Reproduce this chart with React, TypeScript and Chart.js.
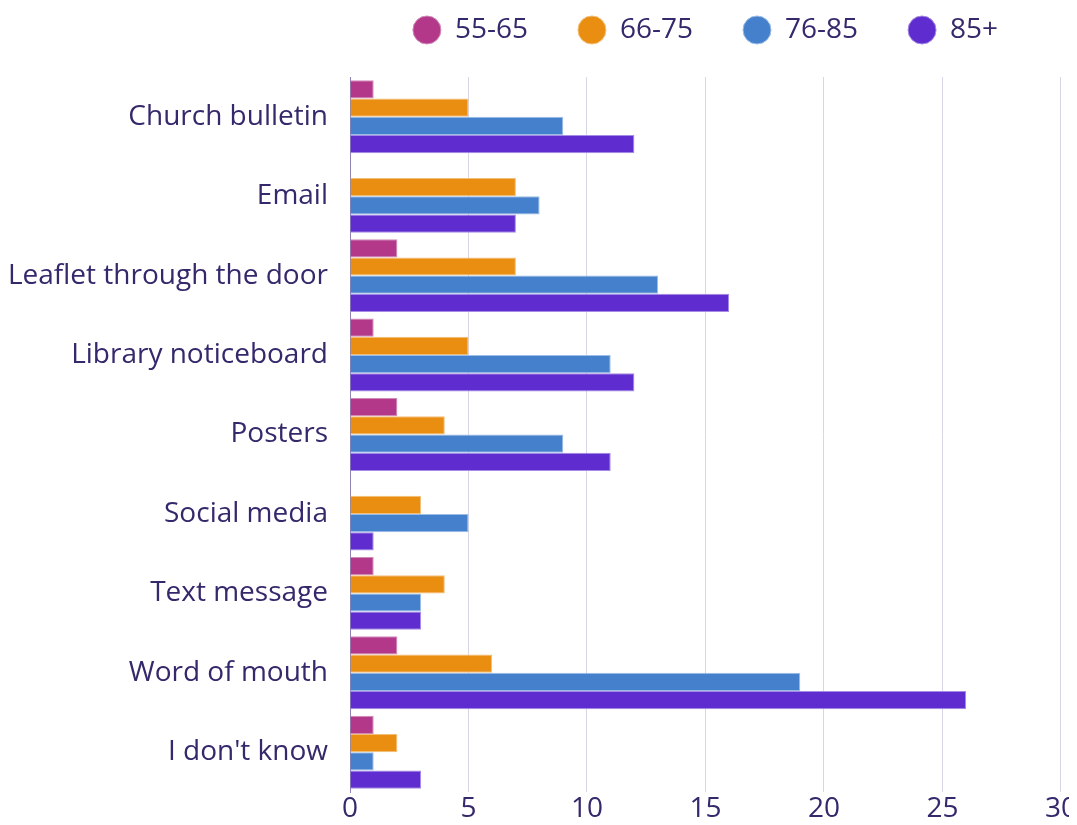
import React, { useEffect, useRef } from "react";
import { Chart, registerables } from "chart.js";
Chart.register(...registerables);

const categories = ["Church bulletin", "Email", "Leaflet through the door", "Library noticeboard", "Posters", "Social media", "Text message", "Word of mouth", "I don't know"];
const seriesLabels = ["55-65", "66-75", "76-85", "85+"];
const age55to65 = [1, 0, 2, 1, 2, 0, 1, 2, 1];
const age66to75 = [5, 7, 7, 5, 4, 3, 4, 6, 2];
const age76to85 = [9, 8, 13, 11, 9, 5, 3, 19, 1];
const age85plus = [12, 7, 16, 12, 11, 1, 3, 26, 3];
const xTicks = [0, 5, 10, 15, 20, 25, 30];

const colors = ["#b3388a", "#e98e10", "#4480cc", "#5e2ccf"];
const borders = ["#d08ab8", "#f2be7a", "#9bbde6", "#a58be3"];
const textColor = "#35286b";
const FONT = "'Open Sans'";

export default function App() {
  const ref = useRef<HTMLCanvasElement | null>(null);
  useEffect(() => {
    if (!ref.current) return;
    const values = [age55to65, age66to75, age76to85, age85plus];
    const chart = new Chart(ref.current, {
      type: "bar",
      data: {
        labels: categories,
        datasets: seriesLabels.map((l, i) => ({
          label: l,
          data: values[i],
          backgroundColor: colors[i],
          borderColor: borders[i],
          borderWidth: 1,
          categoryPercentage: 0.918,
          barPercentage: 1,
        })),
      },
      options: {
        indexAxis: "y",
        animation: false,
        responsive: false,
        maintainAspectRatio: false,
        layout: { padding: { left: 2, right: 0, top: -42, bottom: 0 } },
        plugins: {
          tooltip: { enabled: false },
          title: {
            display: true,
            text: "",
            position: "top",
            weight: 500,
            fullSize: false,
            font: { size: 10 },
            padding: { top: 0, bottom: 11 },
          },
          legend: {
            position: "top",
            align: "center",
            fullSize: false,
            weight: 1000,
            labels: {
              usePointStyle: true,
              pointStyle: "circle",
              boxWidth: 28,
              boxHeight: 19.8,
              padding: 50,
              color: textColor,
              font: { family: FONT, size: 28 },
            },
          },
        },
        scales: {
          x: {
            min: 0,
            max: 30,
            afterBuildTicks: (axis: any) => {
              axis.ticks = xTicks.map((v) => ({ value: v }));
            },
            afterFit: (s: any) => {
              s.height = 33;
            },
            grid: { color: "#d8d5e5", drawTicks: false, lineWidth: 1 },
            border: { display: false },
            ticks: {
              color: textColor,
              padding: 0,
              font: { family: FONT, size: 28 },
            },
          },
          y: {
            afterFit: (s: any) => {
              s.width = 340;
              s.paddingTop = 0;
              s.paddingBottom = 0;
            },
            grid: { display: false, drawTicks: false },
            border: { display: true, color: "#8f84b5", width: 1 },
            ticks: {
              color: textColor,
              padding: 22,
              font: { family: FONT, size: 28 },
            },
          },
        },
      },
    } as any);
    return () => chart.destroy();
  }, []);
  return (
    <div style={{ width: 1069, height: 817, marginBottom: -8, marginRight: -8, overflow: "hidden" }}>
      <canvas ref={ref} width={1069} height={817} style={{ display: "block" }} />
    </div>
  );
}
